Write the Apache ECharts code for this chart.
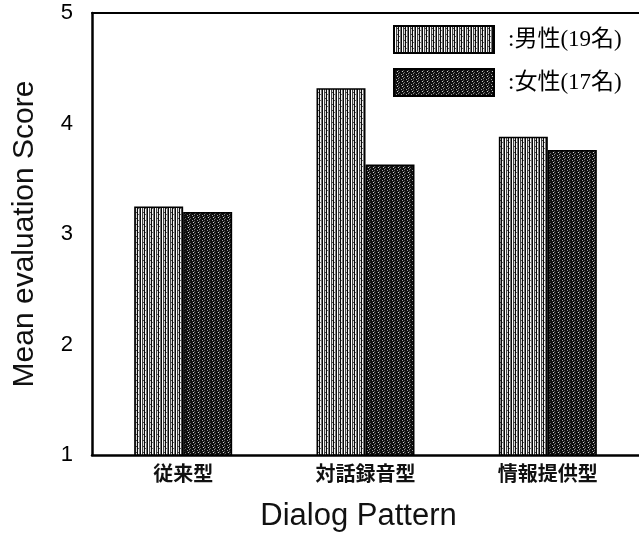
<!DOCTYPE html>
<html>
<head>
<meta charset="utf-8">
<script src="https://cdn.jsdelivr.net/npm/echarts@6/dist/echarts.min.js"></script>
<style>
html,body{margin:0;padding:0;background:#fff;}
#chart{width:639px;height:537px;}
</style>
</head>
<body>
<div id="chart"></div>
<script>
var categories = ['従来型', '対話録音型', '情報提供型'];
var maleName = '男性(19名)';
var femaleName = '女性(17名)';
var maleValues = [3.25, 4.32, 3.88];
var femaleValues = [3.20, 3.63, 3.76];
var yTicks = [1, 2, 3, 4, 5];

function makePattern(w, h, fn) {
  var c = document.createElement('canvas');
  c.width = w; c.height = h;
  var ctx = c.getContext('2d');
  for (var x = 0; x < w; x++) {
    for (var y = 0; y < h; y++) {
      ctx.fillStyle = fn(x, y);
      ctx.fillRect(x, y, 1, 1);
    }
  }
  return c;
}
var maleCols = ['#0a0a0a', '#ffffff', '#444444', '#d8d8d8', '#0a0a0a', '#f4f4f4', '#777777'];
var malePat = makePattern(7, 6, function (x, y) {
  if (x === 3 && y === 2) return '#444444';
  if (x === 5 && y === 4) return '#666666';
  return maleCols[x];
});
var femaleMap = [
  '#0d0d0d', '#0d0d0d', '#a0a0a0', '#0d0d0d', '#1c1c1c',
  '#1c1c1c', '#0d0d0d', '#0d0d0d', '#0d0d0d', '#5a5a5a',
  '#0d0d0d', '#0d0d0d', '#1c1c1c', '#d0d0d0', '#0d0d0d',
  '#6a6a6a', '#0d0d0d', '#0d0d0d', '#0d0d0d', '#1c1c1c',
  '#0d0d0d', '#1c1c1c', '#0d0d0d', '#0d0d0d', '#8a8a8a'
];
var femalePat = makePattern(5, 5, function (x, y) { return femaleMap[y * 5 + x]; });

var chart = echarts.init(document.getElementById('chart'), null, {renderer: 'canvas'});
chart.setOption({
  backgroundColor: '#ffffff',
  animation: false,
  grid: {left: 92, right: 0, top: 13, bottom: 80},
  legend: {
    orient: 'vertical',
    left: 393,
    top: 25,
    padding: 0,
    itemWidth: 100,
    itemHeight: 27,
    itemGap: 14,
    icon: 'rect',
    formatter: function (n) { return ':' + n; },
    textStyle: {
      fontFamily: '"Liberation Serif", "Noto Sans CJK JP", serif',
      fontSize: 23,
      color: '#000',
      padding: [0, 0, 0, 9]
    },
    data: [maleName, femaleName]
  },
  xAxis: [{
    type: 'category',
    data: categories,
    position: 'bottom',
    axisLine: {lineStyle: {color: '#000', width: 2.5}},
    axisTick: {show: false},
    axisLabel: {
      margin: 8,
      fontFamily: '"Noto Sans CJK JP", sans-serif',
      fontSize: 20,
      fontWeight: 'bold',
      color: '#111'
    },
    name: 'Dialog Pattern',
    nameLocation: 'middle',
    nameGap: 46,
    nameTextStyle: {fontFamily: '"Liberation Sans", Arial, sans-serif', fontSize: 31, color: '#111', padding: [0, 14, 0, 0]}
  }, {
    type: 'category',
    data: categories,
    position: 'top',
    axisLine: {show: true, lineStyle: {color: '#000', width: 2}},
    axisTick: {show: false},
    axisLabel: {show: false}
  }],
  yAxis: {
    type: 'value',
    min: yTicks[0],
    max: yTicks[yTicks.length - 1],
    interval: 1,
    axisLine: {show: true, lineStyle: {color: '#000', width: 2.5}},
    axisTick: {show: false},
    splitLine: {show: false},
    axisLabel: {
      margin: 19,
      fontFamily: '"Liberation Sans", Arial, sans-serif',
      fontSize: 22,
      color: '#000'
    },
    name: 'Mean evaluation Score',
    nameLocation: 'middle',
    nameRotate: 90,
    nameGap: 52,
    nameTextStyle: {fontFamily: '"Liberation Sans", Arial, sans-serif', fontSize: 30, color: '#111'}
  },
  series: [{
    name: maleName,
    type: 'bar',
    data: maleValues,
    barWidth: 49,
    barGap: '0%',
    itemStyle: {color: {image: malePat, repeat: 'repeat'}, borderColor: '#000', borderWidth: 1.5}
  }, {
    name: femaleName,
    type: 'bar',
    data: femaleValues,
    barWidth: 49,
    barGap: '0%',
    itemStyle: {color: {image: femalePat, repeat: 'repeat'}, borderColor: '#000', borderWidth: 1.5}
  }]
});
</script>
</body>
</html>
